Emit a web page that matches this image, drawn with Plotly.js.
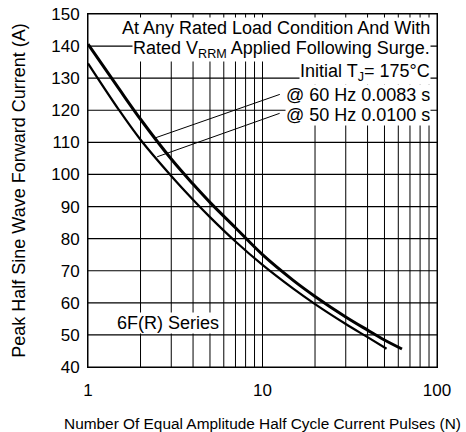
<!DOCTYPE html>
<html>
<head>
<meta charset="utf-8">
<script src="https://cdn.plot.ly/plotly-3.0.1.min.js"></script>
<style>
html,body{margin:0;padding:0;background:#fff;}
#chart{width:466px;height:432px;}
</style>
</head>
<body>
<div id="chart"></div>
<script>
// Number of pulses (N) and peak current (A)
var pulses60 = [1, 1.5, 2, 3, 4, 5, 7, 10, 15, 20, 30, 40, 50, 63];
var current60 = [140.6, 126.8, 117.2, 104.8, 97.0, 91.3, 83.4, 75.0, 67.0, 62.0, 55.6, 51.5, 48.4, 45.6];
var pulses50 = [1, 1.5, 2, 3, 4, 5, 7, 10, 15, 20, 30, 40, 51.4];
var current50 = [134.6, 120.2, 110.8, 99.5, 92.1, 86.7, 79.1, 71.8, 64.4, 59.6, 53.4, 49.3, 45.7];

// Axis ticks / grid positions
var xGridVals = [1,2,3,4,5,6,7,8,9,10,20,30,40,50,60,70,80,90,100];
var xTickVals = [1, 10, 100];
var xTickText = ['1', '10', '100'];
var yTickVals = [40,50,60,70,80,90,100,110,120,130,140,150];
var xRange = [1, 100];
var yRange = [40, 150];

// Leader targets on the curves
var leader60 = {n: 2.43, a: 111.4};
var leader50 = {n: 2.49, a: 105.5};

var FONT = 'Liberation Sans, Arial, sans-serif';

// grid lines built from the tick arrays as line traces (null-separated)
var vx = [], vy = [], hx = [], hy = [];
xGridVals.forEach(function(v){ vx.push(v, v, null); vy.push(yRange[0], yRange[1], null); });
yTickVals.forEach(function(v){ hx.push(xRange[0], xRange[1], null); hy.push(v, v, null); });

var traces = [
  {x: vx, y: vy, mode: 'lines', line: {color: 'black', width: 1}, hoverinfo: 'skip'},
  {x: hx, y: hy, mode: 'lines', line: {color: 'black', width: 1.2}, hoverinfo: 'skip'},
  {x: pulses60, y: current60, mode: 'lines', line: {color: 'black', width: 3, shape: 'spline', smoothing: 1}, hoverinfo: 'skip'},
  {x: pulses50, y: current50, mode: 'lines', line: {color: 'black', width: 2.2, shape: 'spline', smoothing: 1}, hoverinfo: 'skip'}
];

function txt(text, x, y, xanchor) {
  return {text: text, xref: 'paper', yref: 'paper', x: x, y: y, xanchor: xanchor, yanchor: 'middle',
          showarrow: false, bgcolor: 'white', borderpad: 0, font: {family: FONT, size: 18, color: 'black'}};
}
function leader(pt, ax, ay) {
  return {text: '', x: Math.log10(pt.n), y: pt.a, xref: 'x', yref: 'y', showarrow: true,
          arrowhead: 0, arrowwidth: 1, arrowcolor: 'black', ax: ax, ay: ay, standoff: 0, startstandoff: 0};
}

var annotations = [
  leader(leader60, 126, -44),
  leader(leader50, 124, -44),
  txt('At Any Rated Load Condition And With', 0.983, 0.959, 'right'),
  txt('Rated V<sub>RRM</sub> Applied Following Surge.', 0.983, 0.899, 'right'),
  txt('Initial T<sub>J</sub>= 175°C', 0.983, 0.833, 'right'),
  txt('@ 60 Hz 0.0083 s', 0.983, 0.771, 'right'),
  txt('@ 50 Hz 0.0100 s', 0.983, 0.714, 'right'),
  txt('6F(R) Series', 0.229, 0.125, 'center')
];

var layout = {
  width: 466, height: 432,
  margin: {l: 88, r: 29, t: 14, b: 65},
  paper_bgcolor: 'white', plot_bgcolor: 'white',
  showlegend: false,
  font: {family: FONT, color: 'black'},
  xaxis: {
    type: 'log', range: [Math.log10(xRange[0]), Math.log10(xRange[1])],
    tickmode: 'array', tickvals: xTickVals, ticktext: xTickText, tickangle: 0,
    showgrid: false,
    showline: true, linecolor: 'black', linewidth: 1, mirror: true,
    ticks: 'outside', ticklen: 8, tickcolor: 'rgba(0,0,0,0)',
    tickfont: {family: FONT, size: 17, color: 'black'},
    zeroline: false,
    title: {text: 'Number Of Equal Amplitude Half Cycle Current Pulses (N)', font: {family: FONT, size: 15.4, color: 'black'}, standoff: 18}
  },
  yaxis: {
    range: yRange,
    tickmode: 'array', tickvals: yTickVals,
    showgrid: false,
    showline: true, linecolor: 'black', linewidth: 1, mirror: true,
    ticks: 'outside', ticklen: 4, tickcolor: 'rgba(0,0,0,0)',
    tickfont: {family: FONT, size: 17, color: 'black'},
    zeroline: false,
    title: {text: 'Peak Half Sine Wave Forward Current (A)', font: {family: FONT, size: 18, color: 'black'}, standoff: 20}
  },
  annotations: annotations
};

Plotly.newPlot('chart', traces, layout, {staticPlot: true, displayModeBar: false});
</script>
</body>
</html>
